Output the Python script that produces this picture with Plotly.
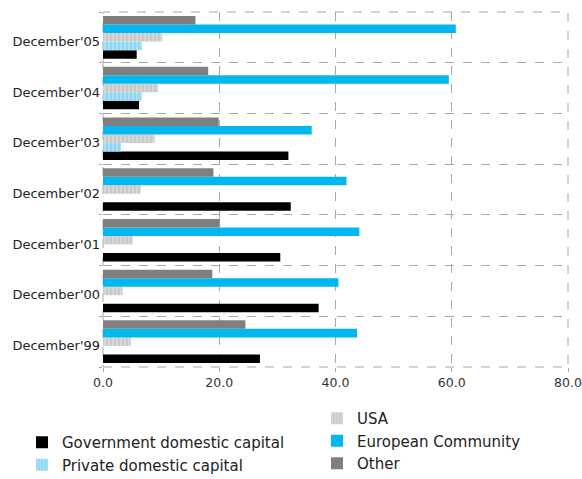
import plotly.graph_objects as go

categories = ["December'99", "December'00", "December'01", "December'02",
              "December'03", "December'04", "December'05"]
government = [27.0, 37.1, 30.5, 32.3, 31.9, 6.2, 5.8]
private = [0.0, 0.0, 0.0, 0.0, 3.1, 6.7, 6.7]
usa = [4.8, 3.4, 5.1, 6.5, 8.9, 9.5, 10.2]
european = [43.7, 40.5, 44.1, 41.9, 35.9, 59.5, 60.7]
other = [24.5, 18.8, 20.1, 19.0, 19.9, 18.1, 15.9]
x_ticks = [0, 20, 40, 60, 80]
x_tick_labels = ["0.0", "20.0", "40.0", "60.0", "80.0"]

series = [
    ("Government domestic capital", government, "#000000", None, "legend"),
    ("Private domestic capital", private, "#8fd6f0", "|", "legend"),
    ("USA", usa, "#c9c9c9", "|", "legend2"),
    ("European Community", european, "#00b8ef", None, "legend2"),
    ("Other", other, "#7f7f7f", None, "legend2"),
]

fig = go.Figure()
for name, vals, color, pat, leg in series:
    marker = dict(color=color, line=dict(width=0))
    if pat:
        marker["pattern"] = dict(shape=pat, fgcolor="#ffffff", size=4, solidity=0.25)
    fig.add_trace(go.Bar(
        y=categories, x=vals, name=name, orientation="h",
        marker=marker, legend=leg,
    ))

font_family = "'DejaVu Sans', sans-serif"
grid_col = "#a8a8a8"
fig.update_layout(
    width=582, height=479,
    margin=dict(l=103, r=14, t=12, b=112, autoexpand=False),
    paper_bgcolor="white", plot_bgcolor="white",
    barmode="group", bargap=0.16, bargroupgap=0.0,
    font=dict(family=font_family, color="#222222"),
    showlegend=True,
    legend=dict(
        xref="container", yref="container", x=22/582, y=1-426/479,
        xanchor="left", yanchor="top", traceorder="normal",
        font=dict(size=15, color="#222222"), itemwidth=30,
        bgcolor="rgba(0,0,0,0)", tracegroupgap=0,
    ),
    legend2=dict(
        xref="container", yref="container", x=317/582, y=1-402/479,
        xanchor="left", yanchor="top", traceorder="normal",
        font=dict(size=15, color="#222222"), itemwidth=30,
        bgcolor="rgba(0,0,0,0)", tracegroupgap=0,
    ),
    xaxis=dict(
        range=[0, 80], tickvals=x_ticks, ticktext=x_tick_labels,
        showgrid=True, gridcolor=grid_col, griddash="dash", gridwidth=1,
        zeroline=False, showline=False, automargin=False,
        ticks="outside", ticklen=4, tickcolor=grid_col,
        tickfont=dict(size=12.5, color="#333333"), ticklabelstandoff=0,
    ),
    yaxis=dict(
        type="category", categoryorder="array", categoryarray=categories,
        tickson="boundaries", showgrid=True, gridcolor=grid_col,
        griddash="dash", gridwidth=1, zeroline=False, showline=False,
        automargin=False,
        ticks="outside", ticklen=3, tickcolor=grid_col,
        tickfont=dict(size=13, color="#222222"), ticklabelstandoff=2,
        ticklabelshift=4,
    ),
    shapes=[dict(type="rect", xref="paper", yref="paper", x0=0, x1=1, y0=0, y1=1,
                 line=dict(color=grid_col, width=1, dash="dash"), layer="below")],
)

fig.write_html("out.html")
